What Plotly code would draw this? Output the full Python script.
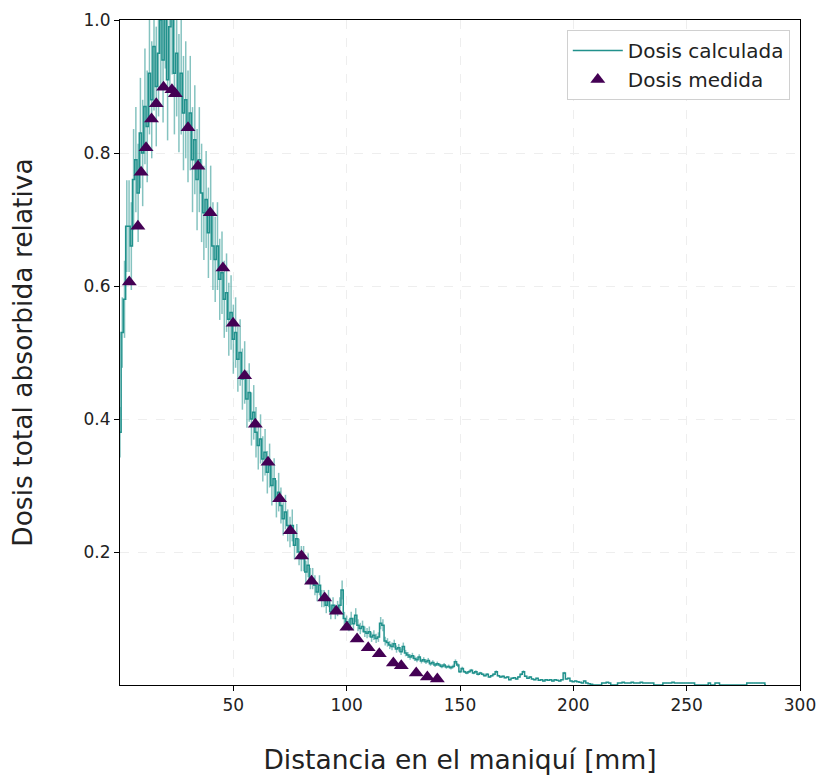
import plotly.graph_objects as go

# Calculated dose: 1 mm bins from 0 to 285 mm
calc_x = list(range(0, 286))
calc_dose = [
    0.38, 0.53, 0.58, 0.69, 0.69, 0.66, 0.76, 0.79, 0.74, 0.83,
    0.80, 0.87, 0.84, 0.92, 0.88, 0.96, 0.90, 0.95, 1.00, 0.94,
    1.03, 0.91, 0.99, 1.02, 0.92, 0.95, 0.89, 0.92, 0.86, 0.88,
    0.84, 0.86, 0.79, 0.82, 0.76, 0.79, 0.74, 0.71, 0.73, 0.68,
    0.71, 0.66, 0.64, 0.66, 0.61, 0.62, 0.58, 0.59, 0.55, 0.56,
    0.52, 0.53, 0.49, 0.50, 0.46, 0.47, 0.43, 0.44, 0.40, 0.41,
    0.38, 0.36, 0.37, 0.34, 0.35, 0.32, 0.33, 0.30, 0.31, 0.28,
    0.29, 0.27, 0.25, 0.26, 0.24, 0.23, 0.24, 0.21, 0.22, 0.20,
    0.19, 0.19, 0.17, 0.18, 0.16, 0.16, 0.15, 0.14, 0.15, 0.13,
    0.13, 0.12, 0.13, 0.11, 0.12, 0.11, 0.115, 0.12, 0.143, 0.10,
    0.095, 0.09, 0.10, 0.092, 0.105, 0.09, 0.085, 0.088, 0.08, 0.078,
    0.08, 0.072, 0.075, 0.07, 0.072, 0.093, 0.09, 0.066, 0.064, 0.06,
    0.058, 0.062, 0.054, 0.056, 0.05, 0.058, 0.048, 0.045, 0.042, 0.044,
    0.04, 0.038, 0.042, 0.036, 0.038, 0.035, 0.037, 0.032, 0.034, 0.03,
    0.032, 0.03, 0.028, 0.03, 0.027, 0.028, 0.026, 0.028, 0.035, 0.03,
    0.02, 0.025, 0.02, 0.018, 0.02, 0.022, 0.018, 0.02, 0.016, 0.018,
    0.016, 0.014, 0.016, 0.012, 0.014, 0.016, 0.02, 0.014, 0.012, 0.013,
    0.011, 0.012, 0.008, 0.01, 0.011, 0.009, 0.012, 0.016, 0.02, 0.013,
    0.01, 0.012, 0.009, 0.008, 0.01, 0.007, 0.008, 0.006, 0.008, 0.007,
    0.008, 0.006, 0.008, 0.007, 0.006, 0.008, 0.018, 0.009, 0.01, 0.006,
    0.005, 0.006, 0.005, 0.004, 0.003, 0.006, 0.003, 0.002, 0.001, 0.0,
    0.0, 0.0, 0.0, 0.003, 0.003, 0.004, 0.003, 0.0, 0.0, 0.0,
    0.003, 0.003, 0.004, 0.003, 0.003, 0.003, 0.004, 0.003, 0.003, 0.003,
    0.004, 0.003, 0.003, 0.003, 0.003, 0.003, 0.0, 0.0, 0.0, 0.0,
    0.003, 0.003, 0.003, 0.003, 0.004, 0.003, 0.003, 0.003, 0.003, 0.003,
    0.003, 0.003, 0.003, 0.003, 0.0, 0.0, 0.0, 0.0, 0.0, 0.0,
    0.003, 0.0, 0.0, 0.003, 0.003, 0.0, 0.0, 0.0, 0.0, 0.0,
    0.0, 0.0, 0.0, 0.0, 0.0, 0.0, 0.0, 0.003, 0.003, 0.003,
    0.003, 0.003, 0.003, 0.003, 0.003, 0.0,
]

# Measured dose
meas_x = [4.1, 7.9, 9.3, 11.5, 13.9, 16.0, 19.2, 22.9, 24.4, 30.0, 34.4, 39.8,
          45.4, 49.9, 55.0, 59.7, 65.3, 70.4, 75.1, 80.1, 84.5, 90.3, 95.4,
          100.1, 104.6, 109.5, 114.4, 120.6, 124.1, 130.7, 135.6, 140.0]
meas_dose = [0.606, 0.690, 0.771, 0.808, 0.851, 0.874, 0.899, 0.895, 0.889, 0.838,
             0.780, 0.710, 0.627, 0.544, 0.465, 0.392, 0.335, 0.280, 0.232, 0.194,
             0.156, 0.131, 0.111, 0.087, 0.069, 0.056, 0.047, 0.033, 0.029, 0.018,
             0.012, 0.009]

x_ticks = [50, 100, 150, 200, 250, 300]
y_ticks = [0.2, 0.4, 0.6, 0.8, 1.0]
y_tick_labels = ["0.2", "0.4", "0.6", "0.8", "1.0"]

FONT = "DejaVu Sans, Verdana, sans-serif"

fig = go.Figure()
fig.add_trace(go.Scatter(
    x=calc_x, y=calc_dose, mode="lines", name="Dosis calculada",
    line=dict(color="#21918c", width=1.5, shape="hvh"),
    error_y=dict(type="percent", value=10, thickness=1.5, width=0,
                 color="rgba(33,145,140,0.55)"),
    legendgroup="a",
))
fig.add_trace(go.Scatter(
    x=meas_x, y=meas_dose, mode="markers", name="Dosis medida",
    marker=dict(symbol="triangle-up", size=13, color="#440154"),
    legendgroup="b",
))

axis_common = dict(
    showline=True, linecolor="black", linewidth=1, mirror=True,
    ticks="outside", ticklen=5, tickcolor="black", tickwidth=1,
    showgrid=True, gridcolor="#eeeeee", griddash="dash", gridwidth=1,
    zeroline=False, automargin=False,
    tickfont=dict(family=FONT, size=17, color="#222"),
)

fig.update_layout(
    width=819, height=776,
    margin=dict(l=120, r=19, t=20, b=91),
    paper_bgcolor="white", plot_bgcolor="white",
    font=dict(family=FONT, color="#222"),
    xaxis=dict(range=[0, 300], tickvals=x_ticks,
               title=dict(text="Distancia en el maniquí [mm]",
                          font=dict(family=FONT, size=26.5, color="#222"), standoff=36),
               **axis_common),
    yaxis=dict(range=[0, 1.0], tickvals=y_ticks, ticktext=y_tick_labels,
               title=dict(text="Dosis total absorbida relativa",
                          font=dict(family=FONT, size=26.5, color="#222"), standoff=43),
               **axis_common),
    legend=dict(x=0.985, y=0.985, xanchor="right", yanchor="top",
                bgcolor="white", bordercolor="#d0d0d0", borderwidth=1,
                font=dict(family=FONT, size=20, color="#222"),
                tracegroupgap=0, itemwidth=50),
    showlegend=True,
)

fig.write_html(
    "out.html",
    config={"displayModeBar": False},
    post_script="document.body.style.margin='0';document.body.style.overflow='hidden';",
)
